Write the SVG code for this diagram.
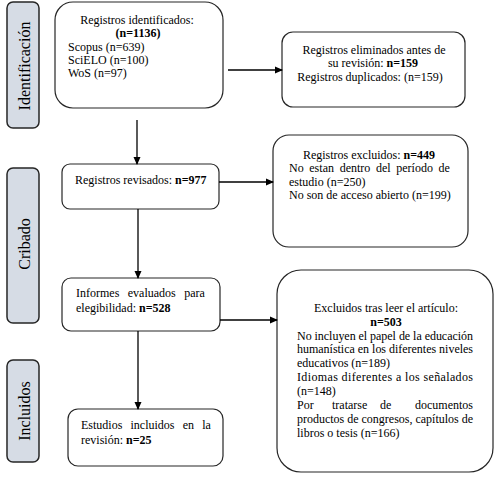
<svg xmlns="http://www.w3.org/2000/svg" width="496" height="480" viewBox="0 0 496 480">
<style>
.side{fill:#d6dce5;stroke:#262626;stroke-width:1.5}
.box{fill:#fff;stroke:#262626;stroke-width:1.2}
text{font-family:'Liberation Serif','Times New Roman',serif;font-size:12px;fill:#000}
.lab{font-size:16px}
.c{text-anchor:middle}
.b{font-weight:bold}
.ln{stroke:#000;stroke-width:1.3;fill:none}
</style>
<defs>
<marker id="ah" markerWidth="8" markerHeight="8" refX="7" refY="4" orient="auto" markerUnits="userSpaceOnUse">
<path d="M0,0.5 L8,4 L0,7.5 Z" fill="#000"/>
</marker>
</defs>
<rect width="496" height="480" fill="#fff"/>
<g id="lab-identificacion">
<rect class="side" x="7" y="2" width="32" height="126" rx="6"/>
<text class="lab c" transform="translate(30,66) rotate(-90)">Identificación</text>
</g>
<g id="lab-cribado">
<rect class="side" x="7" y="168" width="32" height="155" rx="6"/>
<text class="lab c" transform="translate(30,244) rotate(-90)">Cribado</text>
</g>
<g id="lab-incluidos">
<rect class="side" x="7" y="360" width="32" height="102" rx="6"/>
<text class="lab c" transform="translate(30,411) rotate(-90)">Incluidos</text>
</g>
<g id="n-identificados">
<rect class="box" x="55" y="2" width="168" height="106" rx="18"/>
<text class="c" x="137" y="24">Registros identificados:</text>
<text class="c b" x="138" y="37">(n=1136)</text>
<text x="68" y="51">Scopus (n=639)</text>
<text x="68" y="64">SciELO (n=100)</text>
<text x="68" y="77">WoS (n=97)</text>
</g>
<g id="n-eliminados">
<rect class="box" x="282" y="32" width="183" height="75" rx="11"/>
<text class="c" x="374" y="54">Registros eliminados antes de</text>
<text class="c" x="373" y="67">su revisión: <tspan class="b">n=159</tspan></text>
<text class="c" x="370" y="81">Registros duplicados: (n=159)</text>
</g>
<g id="n-revisados">
<rect class="box" x="62" y="164" width="157" height="45" rx="8"/>
<text x="75" y="184">Registros revisados: <tspan class="b">n=977</tspan></text>
</g>
<g id="n-excluidos">
<rect class="box" x="273" y="135" width="195" height="112" rx="16"/>
<text class="c" x="369" y="159">Registros excluidos: <tspan class="b">n=449</tspan></text>
<text y="172"><tspan x="289">No</tspan> <tspan x="309.3">estan</tspan> <tspan x="339.7">dentro</tspan> <tspan x="376">del</tspan> <tspan x="396.3">período</tspan> <tspan x="438.6">de</tspan></text>
<text x="289" y="186">estudio (n=250)</text>
<text x="289" y="199">No son de acceso abierto (n=199)</text>
</g>
<g id="n-informes">
<rect class="box" x="62" y="278" width="158" height="53" rx="9"/>
<text y="297"><tspan x="76">Informes</tspan> <tspan x="127.8">evaluados</tspan> <tspan x="184.3">para</tspan></text>
<text x="76" y="312">elegibilidad: <tspan class="b">n=528</tspan></text>
</g>
<g id="n-incluidos">
<rect class="box" x="68" y="409" width="155" height="57" rx="10"/>
<text y="429"><tspan x="81">Estudios</tspan> <tspan x="130.5">incluidos</tspan> <tspan x="182.7">en</tspan> <tspan x="202.2">la</tspan></text>
<text x="81" y="444">revisión: <tspan class="b">n=25</tspan></text>
</g>
<g id="n-excluidos-tras">
<rect class="box" x="277" y="270" width="216" height="202" rx="24"/>
<text class="c" x="386" y="312">Excluidos tras leer el artículo:</text>
<text class="c b" x="386" y="326">n=503</text>
<text x="297" y="340" textLength="176" lengthAdjust="spacing">No incluyen el papel de la educación</text>
<text x="297" y="353" textLength="176" lengthAdjust="spacing">humanística en los diferentes niveles</text>
<text x="297" y="367">educativos (n=189)</text>
<text x="297" y="381" textLength="176" lengthAdjust="spacing">Idiomas diferentes a los señalados</text>
<text x="297" y="395">(n=148)</text>
<text y="409"><tspan x="297">Por</tspan> <tspan x="332">tratarse</tspan> <tspan x="380">de</tspan> <tspan x="415">documentos</tspan></text>
<text x="297" y="423" textLength="176" lengthAdjust="spacing">productos de congresos, capítulos de</text>
<text x="297" y="437">libros o tesis (n=166)</text>
</g>
<g id="connectors">
<line class="ln" x1="228" y1="70" x2="282" y2="70" marker-end="url(#ah)"/>
<line class="ln" x1="137" y1="120" x2="137" y2="164" marker-end="url(#ah)"/>
<line class="ln" x1="219" y1="182" x2="273" y2="182" marker-end="url(#ah)"/>
<line class="ln" x1="138" y1="209" x2="138" y2="278" marker-end="url(#ah)"/>
<line class="ln" x1="220" y1="320" x2="277" y2="320" marker-end="url(#ah)"/>
<line class="ln" x1="138" y1="331" x2="138" y2="409" marker-end="url(#ah)"/>
</g>
</svg>
